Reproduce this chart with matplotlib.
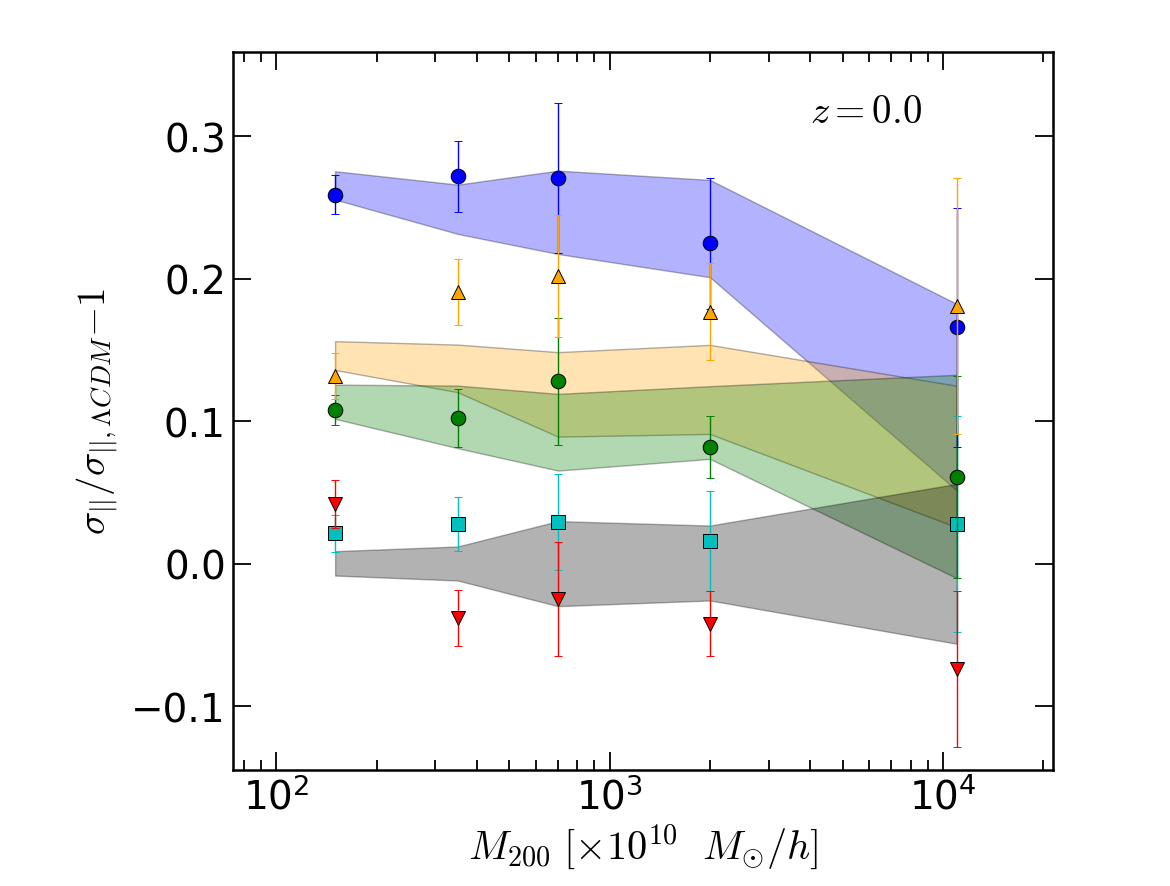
import matplotlib
matplotlib.use('Agg')
import matplotlib.pyplot as plt

plt.rcParams['mathtext.fontset'] = 'cm'
plt.rcParams['font.family'] = ['DejaVu Sans']

# halo mass bins
mass = [150, 350, 700, 2000, 11000]

# points with errors
blue_y = [0.259, 0.272, 0.271, 0.225, 0.166]
blue_err = [0.0137, 0.025, 0.0525, 0.046, 0.084]
orange_y = [0.132, 0.191, 0.202, 0.177, 0.181]
orange_err = [0.016, 0.023, 0.043, 0.034, 0.090]
green_y = [0.108, 0.1025, 0.128, 0.082, 0.061]
green_err = [0.0103, 0.0205, 0.0445, 0.0217, 0.071]
cyan_y = [0.0215, 0.028, 0.0293, 0.016, 0.028]
cyan_err = [0.013, 0.019, 0.0337, 0.035, 0.0758]
red_y = [0.042, -0.038, -0.025, -0.042, -0.074]
red_err = [0.017, 0.0196, 0.040, 0.023, 0.0546]

# shaded bands (lower, upper)
blue_lo = [0.2557, 0.2316, 0.2175, 0.2012, 0.0515]
blue_hi = [0.2756, 0.2662, 0.276, 0.2695, 0.1825]
orange_lo = [0.1361, 0.1205, 0.0893, 0.0912, 0.0257]
orange_hi = [0.1563, 0.1539, 0.1486, 0.1537, 0.125]
green_lo = [0.1018, 0.0812, 0.0655, 0.0737, -0.010]
green_hi = [0.1258, 0.1251, 0.1193, 0.1247, 0.1327]
grey_lo = [-0.0082, -0.0117, -0.0297, -0.0257, -0.0561]
grey_hi = [0.0089, 0.0122, 0.030, 0.0269, 0.0561]

fig = plt.figure(figsize=(11.7, 8.87), dpi=100)
ax = fig.add_axes([0.199, 0.1311, 0.701, 0.8095])

for lo, hi, c in [(blue_lo, blue_hi, 'b'), (orange_lo, orange_hi, 'orange'),
                  (green_lo, green_hi, 'g'), (grey_lo, grey_hi, 'k')]:
    ax.fill_between(mass, lo, hi, facecolor=c, edgecolor='k', alpha=0.3, lw=1, zorder=1)

series = [(cyan_y, cyan_err, 'c', 's'),
          (green_y, green_err, 'g', 'o'),
          (blue_y, blue_err, 'b', 'o'),
          (orange_y, orange_err, 'orange', '^'),
          (red_y, red_err, 'r', 'v')]
for i, (y, e, c, m) in enumerate(series):
    ax.errorbar(mass, y, yerr=e, fmt=m, color=c, ecolor=c, ms=10.5, mec='k', mew=0.7,
                elinewidth=1, capsize=3, capthick=1, zorder=3 + i)

ax.set_xscale('log')
ax.set_xlim(74, 21400)
ax.set_ylim(-0.1445, 0.3595)
ax.set_yticks([-0.1, 0.0, 0.1, 0.2, 0.3])

ax.tick_params(which='both', direction='in', top=True, right=True, labelsize=28)
ax.tick_params(which='major', length=13, width=1.3)
ax.tick_params(which='minor', length=7, width=1.3)
ax.tick_params(axis='y', pad=5)
ax.tick_params(axis='x', pad=5)
for s in ax.spines.values():
    s.set_linewidth(1.8)

ax.set_xlabel(r'$M_{200}\ [\times 10^{10}\ \ M_{\odot}/h]$', fontsize=29, labelpad=4)
ax.set_ylabel(r'$\sigma_{||}/\sigma_{||,\Lambda CDM}{-}1$', fontsize=28, labelpad=8)
ax.text(0.772, 0.917, r'$z=0.0$', transform=ax.transAxes, fontsize=28,
        ha='center', va='center')

plt.savefig('out.png', dpi=100)
